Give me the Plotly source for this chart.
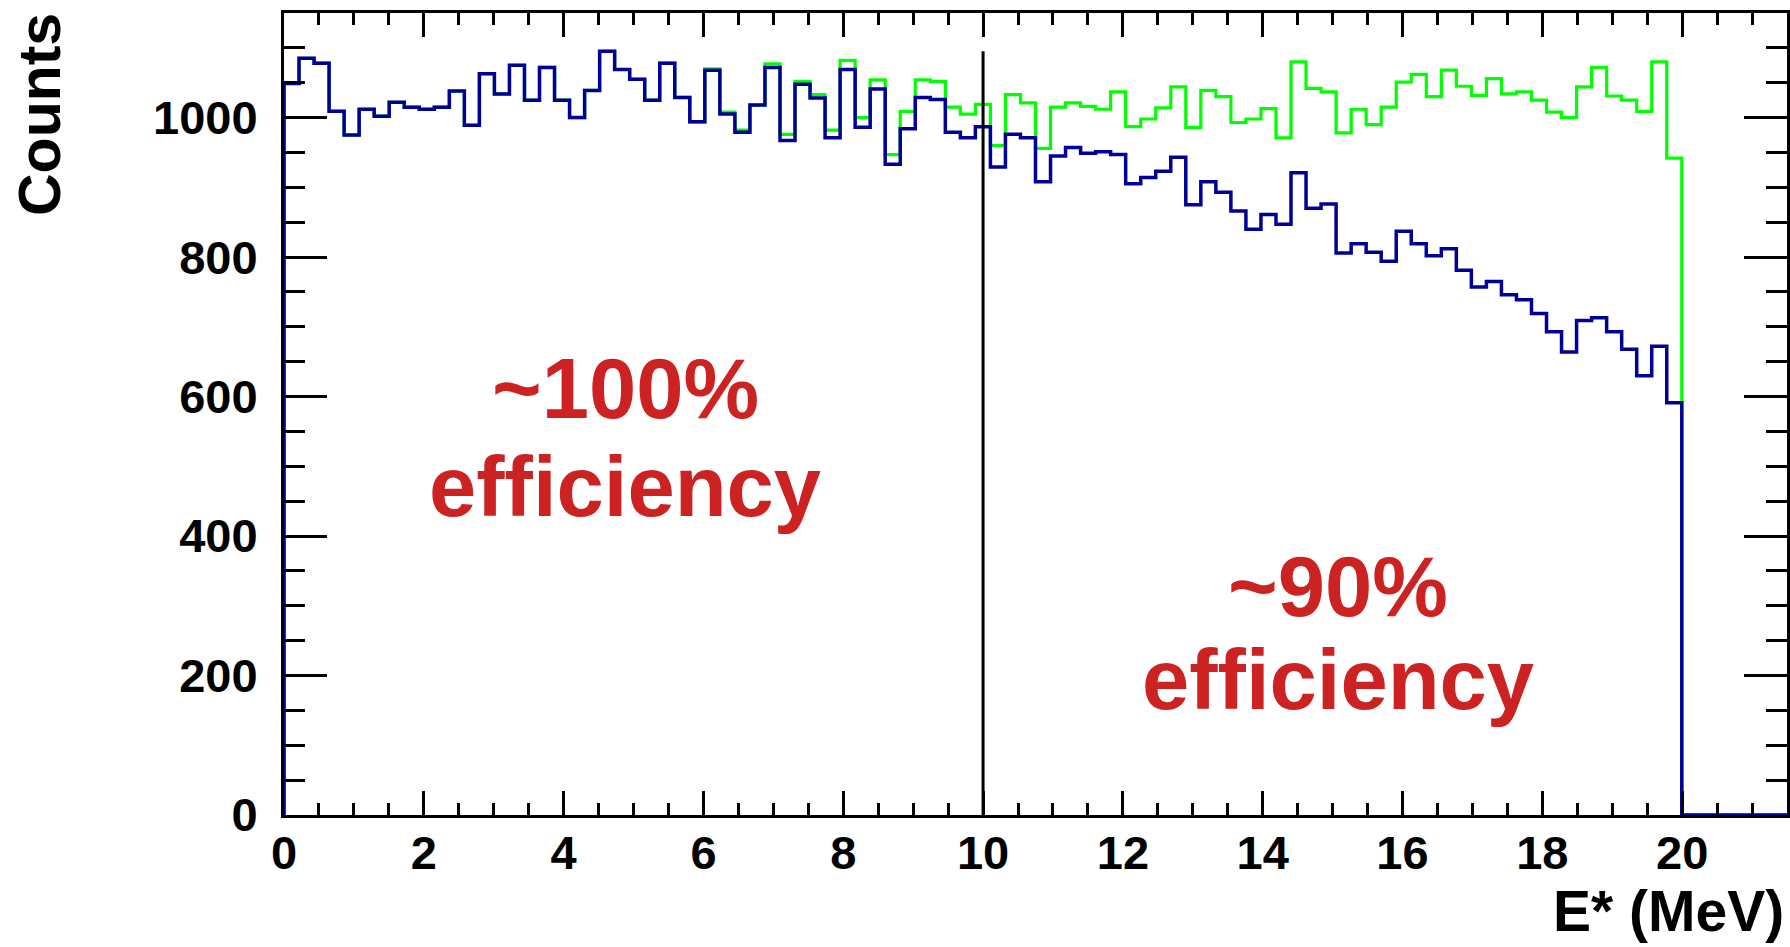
import numpy as np
import plotly.graph_objects as go

# Histogram binning: 100 bins of 0.215 MeV between 0 and 21.5 MeV
X_MIN, X_MAX, N_BINS = 0.0, 21.5, 100
Y_MAX = 1150

# Counts per bin (filled bins only; remaining bins are empty)
counts_all = [
    1049, 1085, 1078, 1009, 975, 1012, 1002, 1022, 1015, 1012,
    1015, 1038, 989, 1063, 1034, 1075, 1025, 1072, 1025, 1000,
    1039, 1095, 1069, 1055, 1025, 1078, 1029, 994, 1070, 1008,
    982, 1018, 1077, 976, 1052, 1033, 982, 1082, 1000, 1054,
    947, 1009, 1054, 1052, 1015, 1005, 1019, 960, 1033, 1021,
    956, 1015, 1021, 1016, 1012, 1037, 987, 998, 1014, 1044,
    986, 1039, 1030, 993, 998, 1013, 971, 1080, 1042, 1037,
    978, 1012, 990, 1015, 1051, 1062, 1030, 1068, 1045, 1032,
    1056, 1034, 1037, 1025, 1008, 1000, 1044, 1072, 1031, 1025,
    1009, 1080, 942,
]

counts_detected = [
    1049, 1085, 1078, 1009, 975, 1012, 1002, 1022, 1015, 1012,
    1015, 1038, 989, 1063, 1034, 1075, 1025, 1072, 1025, 1000,
    1039, 1095, 1069, 1055, 1025, 1078, 1029, 994, 1068, 1005,
    979, 1018, 1072, 967, 1048, 1028, 971, 1069, 986, 1041,
    933, 984, 1029, 1026, 979, 971, 987, 929, 976, 971,
    908, 945, 957, 949, 951, 947, 905, 914, 923, 943,
    875, 908, 893, 866, 840, 861, 847, 921, 870, 876,
    806, 819, 807, 794, 837, 819, 802, 812, 781, 757,
    765, 746, 739, 719, 693, 664, 709, 713, 693, 668,
    630, 672, 591,
]

# Vertical marker at the 10 MeV boundary
CUT_ENERGY = 10.0
CUT_TOP = 1095

x_ticks = list(range(0, 21, 2))
y_ticks = list(range(0, 1001, 200))

edges = np.linspace(X_MIN, X_MAX, N_BINS + 1)


def step_outline(values):
    vals = np.zeros(N_BINS)
    vals[:len(values)] = values
    xs = np.concatenate(([edges[0]], np.repeat(edges, 2)[1:-1], [edges[-1]]))
    ys = np.concatenate(([0.0], np.repeat(vals, 2), [0.0]))
    return xs, ys


BLUE = "#000099"
GREEN = "#00ff00"
RED = "rgb(204,34,34)"
FONT = "Liberation Sans"

fig = go.Figure()

xg, yg = step_outline(counts_all)
fig.add_trace(go.Scatter(x=xg, y=yg, mode="lines",
                         line=dict(color=GREEN, width=3.2), hoverinfo="skip"))
xb, yb = step_outline(counts_detected)
fig.add_trace(go.Scatter(x=xb, y=yb, mode="lines",
                         line=dict(color=BLUE, width=3.5), hoverinfo="skip"))

fig.add_shape(type="line", x0=CUT_ENERGY, x1=CUT_ENERGY, y0=0, y1=CUT_TOP,
              xref="x", yref="y", line=dict(color="black", width=3))

tick_font = dict(family=FONT, size=47, color="black", weight="bold")

fig.update_xaxes(
    range=[X_MIN, X_MAX], tickvals=x_ticks, ticktext=[str(v) for v in x_ticks],
    ticks="inside", ticklen=24, tickwidth=3, tickcolor="black",
    minor=dict(dtick=0.5, tick0=0, ticks="inside", ticklen=12, tickwidth=3,
               tickcolor="black", showgrid=False),
    showline=True, linewidth=3, linecolor="black", mirror="allticks",
    showgrid=False, zeroline=False, tickfont=tick_font, ticklabelstandoff=-5,
)
fig.update_yaxes(
    range=[0, Y_MAX], tickvals=y_ticks, ticktext=[str(v) for v in y_ticks],
    ticks="inside", ticklen=43, tickwidth=3, tickcolor="black",
    minor=dict(dtick=50, tick0=0, ticks="inside", ticklen=21, tickwidth=3,
               tickcolor="black", showgrid=False),
    showline=True, linewidth=3, linecolor="black", mirror="allticks",
    showgrid=False, zeroline=False, tickfont=tick_font, ticklabelstandoff=14,
)

label_font = dict(family=FONT, size=85, color=RED, weight="bold")
title_font = dict(family=FONT, size=59, color="black", weight="bold")
xtitle_font = dict(family=FONT, size=57, color="black", weight="bold")

annotations = [
    dict(text="~100%", x=4.88, y=612, xref="x", yref="y"),
    dict(text="efficiency", x=4.88, y=471, xref="x", yref="y"),
    dict(text="~90%", x=15.08, y=327, xref="x", yref="y"),
    dict(text="efficiency", x=15.08, y=195, xref="x", yref="y"),
]
for a in annotations:
    fig.add_annotation(**a, showarrow=False, xanchor="center", yanchor="middle",
                       borderpad=0, font=label_font)

# Axis titles placed at the axis ends
fig.add_annotation(text="Counts", xref="paper", yref="paper",
                   x=(40 - 284) / 1503, y=(815 - 115) / 802,
                   textangle=-90, showarrow=False, xanchor="center",
                   yanchor="middle", borderpad=0, font=title_font)
fig.add_annotation(text="E* (MeV)", xref="paper", yref="paper",
                   x=(1668 - 284) / 1503, y=(815 - 911) / 802,
                   showarrow=False, xanchor="center", yanchor="middle",
                   borderpad=0, font=xtitle_font)

fig.update_layout(
    width=1790, height=947,
    margin=dict(l=284, r=3, t=13, b=132, autoexpand=False),
    paper_bgcolor="white", plot_bgcolor="white",
    showlegend=False,
)

fig.write_html("out.html")
